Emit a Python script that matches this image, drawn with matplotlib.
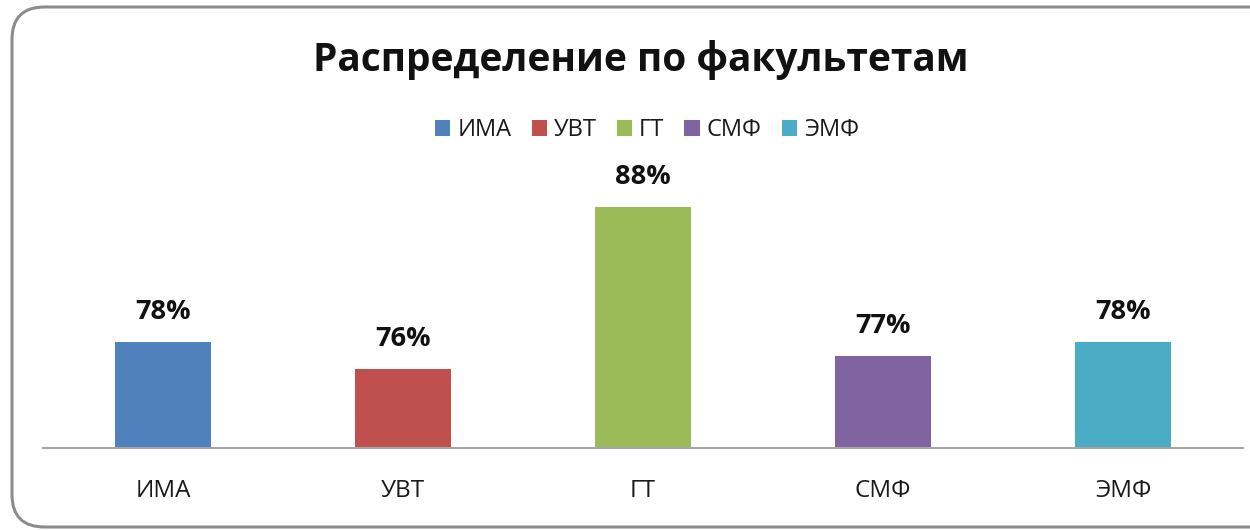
import matplotlib
matplotlib.use("Agg")
import matplotlib.pyplot as plt
from matplotlib.patches import FancyBboxPatch, Patch
import numpy as np

categories = ["ИМА", "УВТ", "ГТ", "СМФ", "ЭМФ"]
values = [78, 76, 88, 77, 78]
colors = ["#4F81BD", "#C0504D", "#9BBB59", "#8064A2", "#4BACC6"]
title = "Распределение по факультетам"

plt.rcParams['font.family'] = ['Open Sans', 'DejaVu Sans']

W, H = 1250, 530
fig = plt.figure(figsize=(W / 100, H / 100), dpi=100)

# rounded chart frame
frame = FancyBboxPatch((12 / W, 1 - 527 / H), (1300 - 12) / W, (527 - 7) / H,
                       boxstyle="round,pad=0,rounding_size=0.026",
                       transform=fig.transFigure, facecolor="none",
                       edgecolor="#8C8C8C", linewidth=2.2, mutation_aspect=W / H,
                       zorder=-1)
fig.patches.append(frame)

ax = fig.add_axes([43 / W, 1 - 448 / H, 1200 / W, 270 / H])
ax.set_facecolor("none")
x = np.arange(len(categories))
ax.bar(x, values, width=0.4, color=colors)
ax.set_xlim(-0.5, len(categories) - 0.5)
ax.set_ylim(70.15, 90.15)
for xi, v in zip(x, values):
    ax.annotate(f"{v}%", (xi, v), xytext=(0, 12), textcoords="offset points",
                ha="center", va="bottom", fontsize=19.5, fontweight="bold", color="#111111")
for s in ["top", "right", "left"]:
    ax.spines[s].set_visible(False)
ax.spines["bottom"].set_color("#A6A6A6")
ax.spines["bottom"].set_linewidth(1.5)
ax.set_yticks([])
ax.set_xticks(x)
ax.set_xticklabels(categories, fontsize=17.5, color="#1a1a1a")
ax.tick_params(axis="x", length=0, pad=22)

fig.text(641 / W, 1 - 60 / H, title, ha="center", va="center",
         fontsize=28, fontweight="bold", color="#111111")

handles = [Patch(facecolor=c, edgecolor="none") for c in colors]
fig.legend(handles, categories, loc="center", bbox_to_anchor=(647 / W, 1 - 130 / H),
           ncol=5, frameon=False, fontsize=17, handlelength=0.64, handleheight=0.64,
           handletextpad=0.3, columnspacing=0.85, labelcolor="#1a1a1a")

fig.savefig("out.png", dpi=100)
